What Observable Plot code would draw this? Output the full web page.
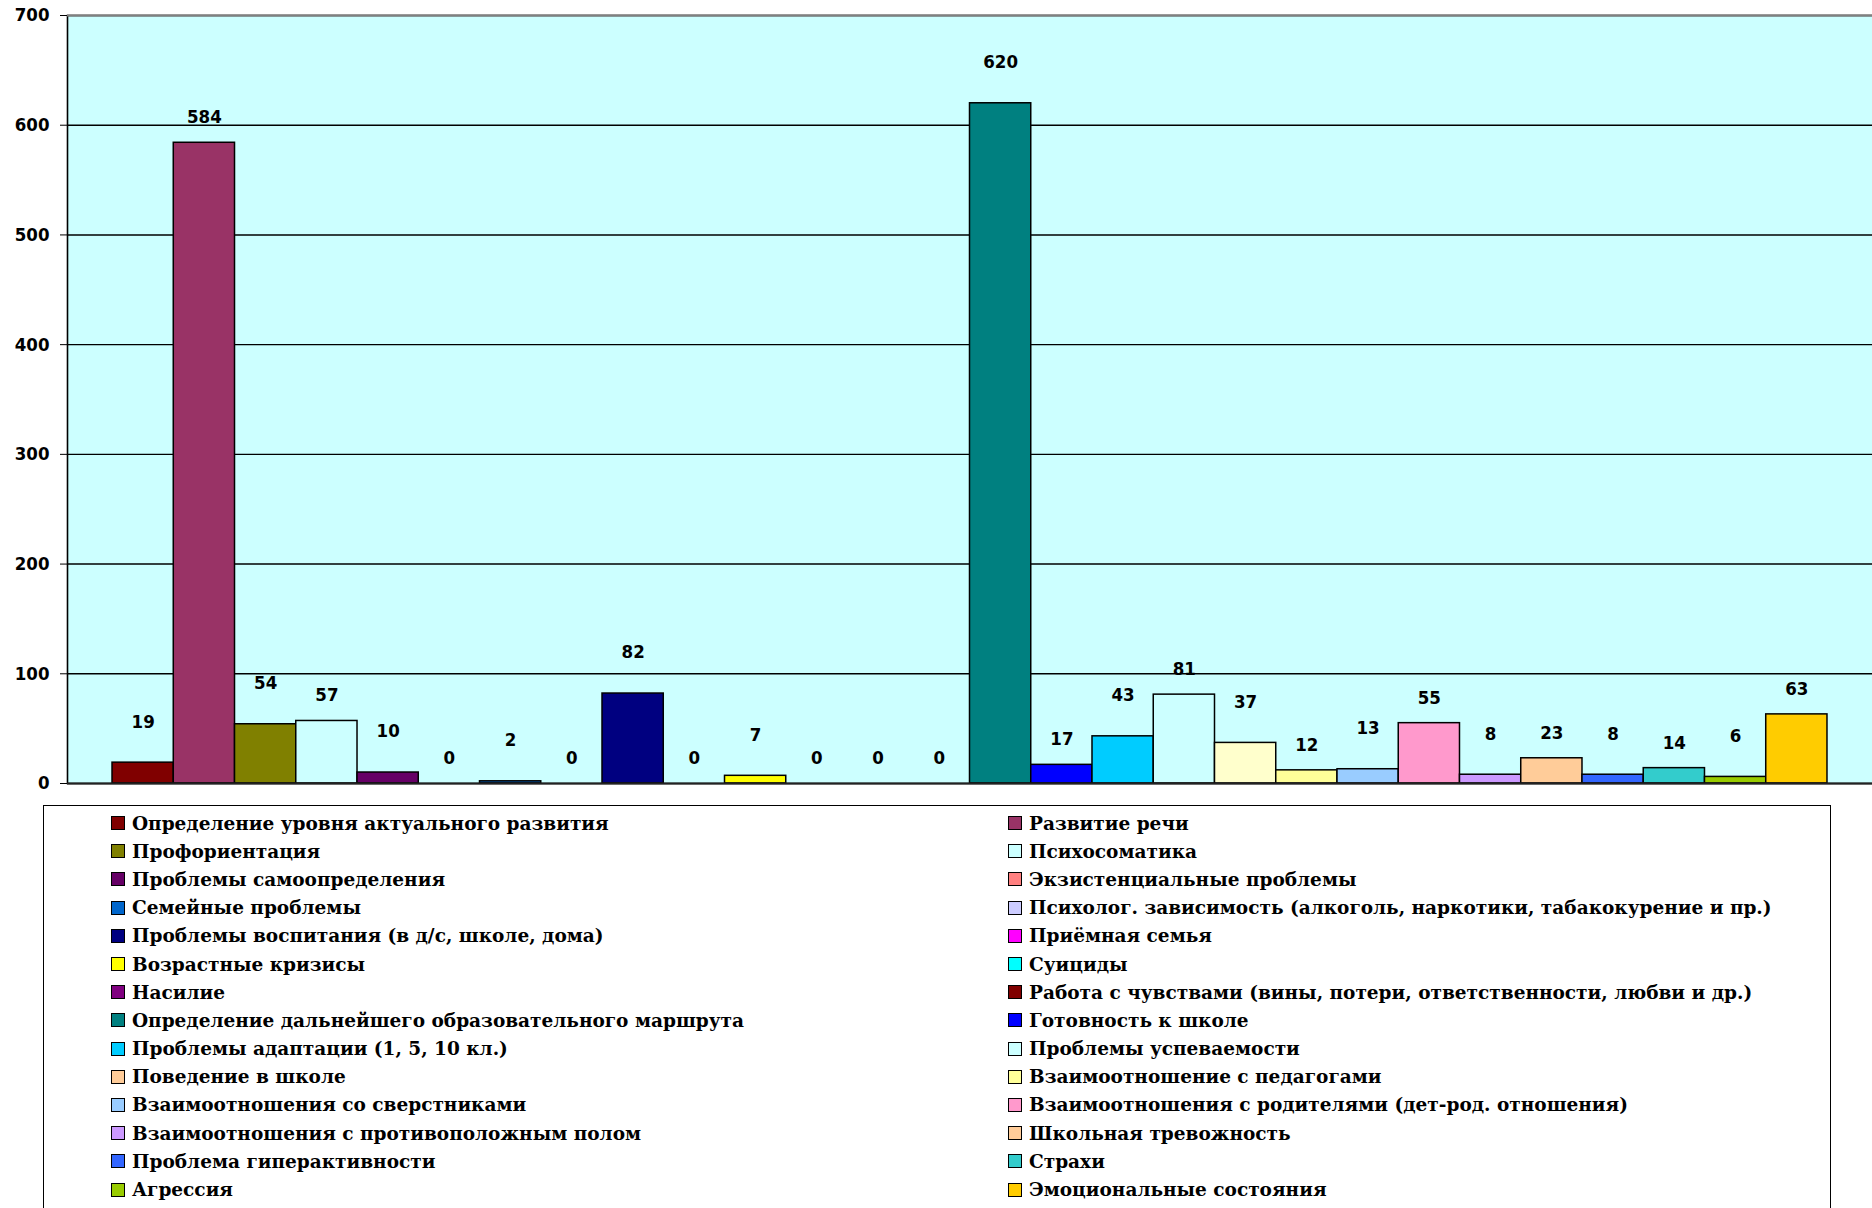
<!DOCTYPE html>
<html>
<head>
<meta charset="utf-8">
<script src="https://cdn.jsdelivr.net/npm/d3@7"></script>
<script src="https://cdn.jsdelivr.net/npm/@observablehq/plot@0.6"></script>
<style>
  html, body { margin: 0; padding: 0; background: white; overflow: hidden; }
  #chart svg { display: block; }
  #legend {
    position: relative;
    margin-top: 10px;
    margin-left: 43px;
    width: 1788px;
    border: 1.5px solid black;
    box-sizing: border-box;
    padding: 3px 0 12px 67px;
    display: grid;
    grid-template-columns: 897px auto;
    grid-auto-rows: 28.2px;
    font-family: "DejaVu Serif", "Liberation Serif", serif;
    font-weight: bold;
    font-size: 18.5px;
    color: black;
  }
  .item { display: flex; align-items: center; white-space: nowrap; }
  .sw { width: 12px; height: 12px; border: 1.5px solid black; margin-right: 7px; flex: none; }
</style>
</head>
<body>
<div id="chart"></div>
<div id="legend"></div>
<script>
const names = [
  "Определение уровня актуального развития",
  "Развитие речи",
  "Профориентация",
  "Психосоматика",
  "Проблемы самоопределения",
  "Экзистенциальные проблемы",
  "Семейные проблемы",
  "Психолог. зависимость (алкоголь, наркотики, табакокурение и пр.)",
  "Проблемы воспитания (в д/с, школе, дома)",
  "Приёмная семья",
  "Возрастные кризисы",
  "Суициды",
  "Насилие",
  "Работа с чувствами (вины, потери, ответственности, любви и др.)",
  "Определение дальнейшего образовательного маршрута",
  "Готовность к школе",
  "Проблемы адаптации (1, 5, 10 кл.)",
  "Проблемы успеваемости",
  "Поведение в школе",
  "Взаимоотношение с педагогами",
  "Взаимоотношения со сверстниками",
  "Взаимоотношения с родителями (дет-род. отношения)",
  "Взаимоотношения с противоположным полом",
  "Школьная тревожность",
  "Проблема гиперактивности",
  "Страхи",
  "Агрессия",
  "Эмоциональные состояния"
];
const values = [19, 584, 54, 57, 10, 0, 2, 0, 82, 0, 7, 0, 0, 0, 620, 17, 43, 81, 37, 12, 13, 55, 8, 23, 8, 14, 6, 63];
const colors = [
  "#800000", "#993366", "#808000", "#CCFFFF", "#660066", "#FF8080", "#0066CC", "#CCCCFF",
  "#000080", "#FF00FF", "#FFFF00", "#00FFFF", "#800080", "#800000", "#008080", "#0000FF",
  "#00CCFF", "#CCFFFF", "#FFFFCC", "#FFFF99", "#99CCFF", "#FF99CC", "#CC99FF", "#FFCC99",
  "#3366FF", "#33CCCC", "#99CC00", "#FFCC00"
];
const legendColors = colors.map((c, i) => names[i] === "Поведение в школе" ? "#FFCC99" : c);
const yTicks = [0, 100, 200, 300, 400, 500, 600, 700];

const data = names.map((name, i) => ({name, value: values[i], i}));
const far = data.filter(d => d.i % 2 === 0 && d.value > 0);
const near = data.filter(d => !(d.i % 2 === 0 && d.value > 0));

const labelFont = {fontSize: 18.5, fontWeight: "bold", fill: "black"};

const chart = Plot.plot({
  width: 1872,
  height: 795,
  marginLeft: 67,
  marginRight: 0,
  marginTop: 15,
  marginBottom: 12,
  style: {
    fontFamily: "'DejaVu Sans Condensed', 'DejaVu Sans', sans-serif",
    fontSize: "18.5px",
    fontWeight: "bold",
    color: "black",
    background: "white",
    overflow: "visible"
  },
  x: {domain: names, axis: null, paddingInner: 0, paddingOuter: 0.735, round: false},
  y: {domain: [0, 700], ticks: yTicks, tickSize: 7, tickPadding: 11, label: null},
  color: {domain: names, range: colors},
  marks: [
    Plot.frame({fill: "#CCFFFF", stroke: "none"}),
    Plot.ruleY(yTicks.filter(t => t > 0 && t < 700), {stroke: "black", strokeWidth: 1.4}),
    Plot.barY(data, {x: "name", y: "value", fill: "name", stroke: "black", strokeWidth: 1.5}),
    Plot.frame({stroke: "black", strokeWidth: 1.6, fill: "none", insetRight: -6}),
    Plot.ruleY([0], {stroke: "#222", strokeWidth: 2}),
    Plot.ruleY([700], {stroke: "#808080", strokeWidth: 2.2}),
    Plot.text(far, {x: "name", y: "value", text: d => String(d.value), dy: -41, ...labelFont}),
    Plot.text(near, {x: "name", y: "value", text: d => String(d.value), dy: -25.5, ...labelFont})
  ]
});
document.getElementById("chart").appendChild(chart);

const legend = d3.select("#legend");
names.forEach((name, i) => {
  const item = legend.append("div").attr("class", "item");
  item.append("div").attr("class", "sw").style("background", legendColors[i]);
  item.append("span").text(name);
});
</script>
</body>
</html>
